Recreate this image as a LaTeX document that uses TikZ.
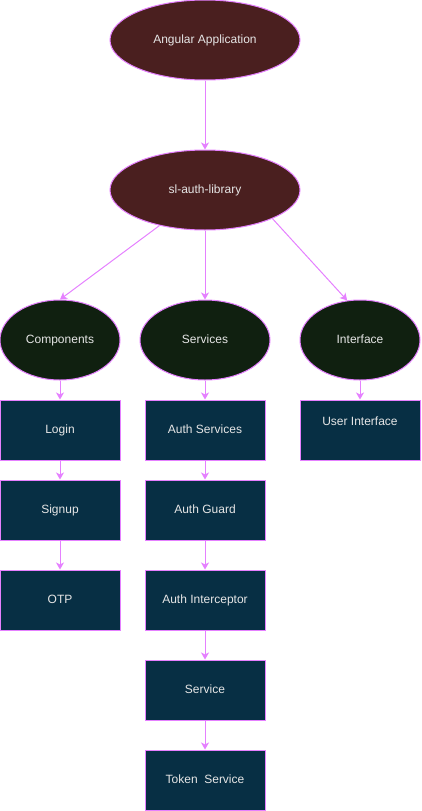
\documentclass[tikz,border=0pt]{standalone}
\usepackage{fontspec}
\setmainfont{Liberation Sans}
\usetikzlibrary{arrows.meta}
\usetikzlibrary{shapes}
\definecolor{edge}{HTML}{E580FF}
\definecolor{maroon}{HTML}{4A1F1F}
\definecolor{darkgreen}{HTML}{102010}
\definecolor{navy}{HTML}{072F44}
\definecolor{txt}{HTML}{E6E6E6}
\tikzset{
	every path/.style={line width=1pt},
	align=center,
	app/.style={
		draw=edge,
		ellipse,
		fill=maroon,
		text=txt,
		inner sep=0pt,
		text height=9pt,
		text depth=2.5pt,
		minimum width=190pt,
		minimum height=80pt,
		font=\fontsize{12}{14}\selectfont,
	},
	group/.style={
		app,
		fill=darkgreen,
		minimum width=120pt,
	},
	box/.style={
		draw=edge,
		rectangle,
		fill=navy,
		text=txt,
		inner sep=0pt,
		text height=9pt,
		text depth=2.5pt,
		minimum width=120pt,
		minimum height=60pt,
		font=\fontsize{12}{14}\selectfont,
	},
	link/.style={
		draw=edge,
		-{Stealth[length=7pt,width=8pt,inset=2pt]}
	},
}
\begin{document}
\begin{tikzpicture}[x=1pt,y=-1pt]
		\useasboundingbox (0,0) rectangle (421,811);

		\node[app] (angular) at (205,40) {Angular Application};
		\node[app] (lib) at (205,190) {sl-auth-library};

		\node[group] (comp) at (60,340) {Components};
		\node[group,minimum width=130pt] (serv) at (205,340) {Services};
		\node[group] (iface) at (360,340) {Interface};

		% components
		\node[box] (login) at (60,430) {Login};
		\node[box] (signup) at (60,510) {Signup};
		\node[box] (otp) at (60,600) {OTP};

		% services
		\node[box] (authserv) at (205,430) {Auth Services};
		\node[box] (guard) at (205,510) {Auth Guard};
		\node[box] (intercept) at (205,600) {Auth Interceptor};
		\node[box] (service) at (205,690) {Service};
		\node[box] (token) at (205,780) {Token\ \ Service};

		% interface
		\node[box,text depth=18.5pt] (userif) at (360,430) {User Interface};

		\draw[link] (angular) -- (lib);
		\draw[link] (lib.-142) -- (comp.north);
		\draw[link] (lib) -- (serv);
		\draw[link] (lib.-23) -- (iface.108);

		\draw[link] (comp) -- (login);
		\draw[link] (login) -- (signup);
		\draw[link] (signup) -- (otp);

		\draw[link] (serv) -- (authserv);
		\draw[link] (authserv) -- (guard);
		\draw[link] (guard) -- (intercept);
		\draw[link] (intercept) -- (service);
		\draw[link] (service) -- (token);

		\draw[link] (iface) -- (userif);

	\end{tikzpicture}
\end{document}
